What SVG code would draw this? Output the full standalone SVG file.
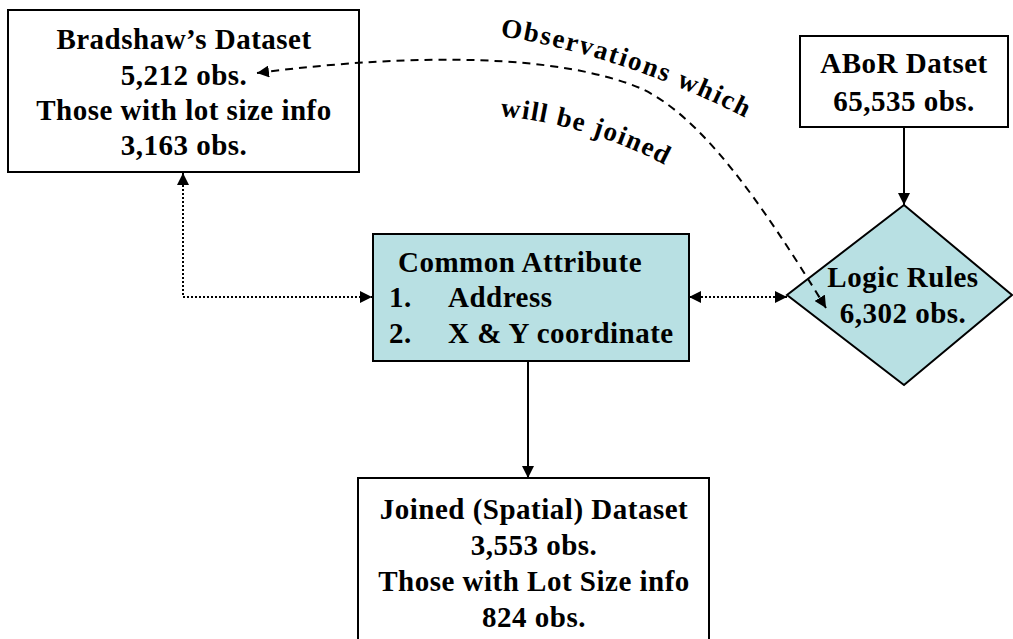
<svg xmlns="http://www.w3.org/2000/svg" width="1013" height="639" viewBox="0 0 1013 639">
<style>
  .box { fill: #ffffff; stroke: #000; stroke-width: 2; }
  .teal { fill: #B8E0E3; stroke: #000; stroke-width: 2; }
  .t { font-family: "Liberation Serif", "Times New Roman", serif; font-weight: bold; font-size: 29px; letter-spacing: 0.5px; fill: #000; }
  .c { text-anchor: middle; }
  .lbl { font-family: "Liberation Serif", "Times New Roman", serif; font-weight: bold; font-size: 27px; fill: #000; }
  .solid { fill: none; stroke: #000; stroke-width: 2; }
  .dotted { fill: none; stroke: #000; stroke-width: 2; stroke-dasharray: 2 2; }
  .dashed { fill: none; stroke: #000; stroke-width: 2; stroke-dasharray: 8 6; }
</style>
<defs>
  <marker id="ah" viewBox="0 0 10 10" refX="10" refY="5" markerWidth="12" markerHeight="12" markerUnits="userSpaceOnUse" orient="auto-start-reverse">
    <path d="M0,0 L10,5 L0,10 z" fill="#000"/>
  </marker>
  <path id="arc1" d="M 500,36 Q 620,55 742,116"/>
  <path id="arc2" d="M 500,116 Q 590,125 667,166"/>
</defs>

<g id="bradshaw">
  <rect class="box" x="8" y="10" width="351" height="162"/>
  <text class="t c" x="184" y="49">Bradshaw’s Dataset</text>
  <text class="t c" x="184" y="85">5,212 obs.</text>
  <text class="t c" x="184" y="120">Those with lot size info</text>
  <text class="t c" x="184" y="155">3,163 obs.</text>
</g>

<g id="abor">
  <rect class="box" x="800" y="36" width="208" height="91"/>
  <text class="t c" x="904" y="73">ABoR Datset</text>
  <text class="t c" x="904" y="111">65,535 obs.</text>
</g>

<g id="common">
  <rect class="teal" x="373" y="234" width="316" height="127"/>
  <text class="t" x="398" y="272">Common Attribute</text>
  <text class="t" x="389" y="307">1.</text>
  <text class="t" x="448" y="307">Address</text>
  <text class="t" x="389" y="343">2.</text>
  <text class="t" x="448" y="343">X &amp; Y coordinate</text>
</g>

<g id="logic">
  <polygon class="teal" points="904,205 1012,295 904,385 787,295"/>
  <text class="t c" x="903" y="287">Logic Rules</text>
  <text class="t c" x="903" y="323">6,302 obs.</text>
</g>

<g id="joined">
  <rect class="box" x="358" y="478" width="351" height="200"/>
  <text class="t c" x="534" y="519">Joined (Spatial) Dataset</text>
  <text class="t c" x="534" y="555">3,553 obs.</text>
  <text class="t c" x="534" y="591">Those with Lot Size info</text>
  <text class="t c" x="534" y="627">824 obs.</text>
</g>

<g id="connectors">
  <line class="solid" x1="904" y1="127" x2="904" y2="205" marker-end="url(#ah)"/>
  <line class="solid" x1="528" y1="361" x2="528" y2="478" marker-end="url(#ah)"/>
  <path class="dotted" d="M 183,173 L 183,297 L 372,297" marker-start="url(#ah)" marker-end="url(#ah)"/>
  <line class="dotted" x1="689" y1="297" x2="787" y2="297" marker-start="url(#ah)" marker-end="url(#ah)"/>
  <path class="dashed" d="M 257,73 C 420,52 560,55 640,88 C 700,115 760,200 826,308" marker-start="url(#ah)" marker-end="url(#ah)"/>
</g>

<g id="connector-label">
  <text class="lbl" letter-spacing="1.8"><textPath href="#arc1">Observations which</textPath></text>
  <text class="lbl" letter-spacing="1.4"><textPath href="#arc2">will be joined</textPath></text>
</g>
</svg>
